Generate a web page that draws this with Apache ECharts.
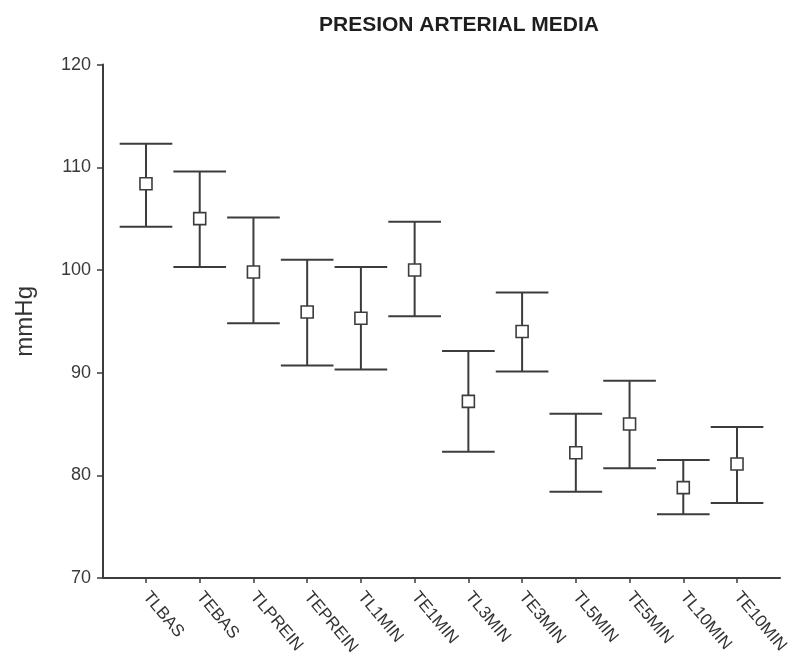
<!DOCTYPE html>
<html>
<head>
<meta charset="utf-8">
<title>Presión arterial media</title>
<script src="https://cdn.jsdelivr.net/npm/echarts@6/dist/echarts.min.js"></script>
<style>
  html, body { margin: 0; padding: 0; background: #fff; }
  #chart { width: 809px; height: 659px; }
</style>
</head>
<body>
<div id="chart"></div>
<script>
// Measurement points (basal, pre-reinfusion and minutes after)
const categories = ['TLBAS', 'TEBAS', 'TLPREIN', 'TEPREIN', 'TL1MIN', 'TE1MIN',
                    'TL3MIN', 'TE3MIN', 'TL5MIN', 'TE5MIN', 'TL10MIN', 'TE10MIN'];
// Mean arterial pressure (mmHg) and interval bounds
const means = [108.4, 105.0, 99.8, 95.9, 95.3, 100.0, 87.2, 94.0, 82.2, 85.0, 78.8, 81.1];
const upper = [112.3, 109.6, 105.1, 101.0, 100.3, 104.7, 92.1, 97.8, 86.0, 89.2, 81.5, 84.7];
const lower = [104.2, 100.3, 94.8, 90.7, 90.3, 95.5, 82.3, 90.1, 78.4, 80.7, 76.2, 77.3];
const yTicks = [70, 80, 90, 100, 110, 120];

const positions = categories.map((_, i) => i + 1);
const seriesData = categories.map((_, i) => [positions[i], lower[i], upper[i], means[i]]);

const ink = '#3c3c3c';

const chart = echarts.init(document.getElementById('chart'), null, { renderer: 'canvas' });

chart.setOption({
  backgroundColor: '#ffffff',
  animation: false,
  title: {
    text: 'PRESION ARTERIAL MEDIA',
    left: 314,
    top: 10,
    textStyle: {
      fontFamily: 'Liberation Sans, Arial, sans-serif',
      fontSize: 21,
      fontWeight: 'bold',
      color: '#1e1e1e'
    }
  },
  grid: { left: 103, right: 29, top: 64.6, bottom: 81, containLabel: false },
  xAxis: {
    type: 'value',
    min: 0.2,
    max: 12.8,
    splitLine: { show: false },
    axisLine: { show: true, lineStyle: { color: ink, width: 2 } },
    axisTick: {
      show: true,
      customValues: positions,
      length: 5,
      lineStyle: { color: ink, width: 1.5 }
    },
    axisLabel: {
      customValues: positions,
      formatter: (v) => categories[Math.round(v) - 1] || '',
      rotate: -50,
      margin: 16,
      fontFamily: 'Liberation Sans, Arial, sans-serif',
      fontSize: 17,
      color: '#333'
    }
  },
  yAxis: {
    type: 'value',
    min: yTicks[0],
    max: yTicks[yTicks.length - 1],
    interval: 10,
    name: 'mmHg',
    nameLocation: 'middle',
    nameGap: 66,
    nameRotate: 90,
    nameTextStyle: {
      fontFamily: 'Liberation Sans, Arial, sans-serif',
      fontSize: 24,
      color: '#333'
    },
    splitLine: { show: false },
    axisLine: { show: true, lineStyle: { color: ink, width: 2 } },
    axisTick: { show: true, length: 6, lineStyle: { color: ink, width: 1.5 } },
    axisLabel: {
      margin: 12,
      fontFamily: 'Liberation Sans, Arial, sans-serif',
      fontSize: 18,
      color: '#3a3a3a'
    }
  },
  series: [{
    type: 'custom',
    data: seriesData,
    encode: { x: 0, y: [1, 2, 3] },
    renderItem: function (params, api) {
      const x = api.value(0);
      const lo = api.coord([x, api.value(1)]);
      const hi = api.coord([x, api.value(2)]);
      const mid = api.coord([x, api.value(3)]);
      const capHalf = api.size([1, 0])[0] * 0.49;
      const box = 12;
      const line = { stroke: ink, lineWidth: 2 };
      return {
        type: 'group',
        children: [
          { type: 'line', shape: { x1: hi[0], y1: hi[1], x2: lo[0], y2: lo[1] }, style: line },
          { type: 'line', shape: { x1: hi[0] - capHalf, y1: hi[1], x2: hi[0] + capHalf, y2: hi[1] }, style: line },
          { type: 'line', shape: { x1: lo[0] - capHalf, y1: lo[1], x2: lo[0] + capHalf, y2: lo[1] }, style: line },
          {
            type: 'rect',
            shape: { x: mid[0] - box / 2, y: mid[1] - box / 2, width: box, height: box },
            style: { fill: '#ffffff', stroke: ink, lineWidth: 1.6 }
          }
        ]
      };
    }
  }]
});
</script>
</body>
</html>
